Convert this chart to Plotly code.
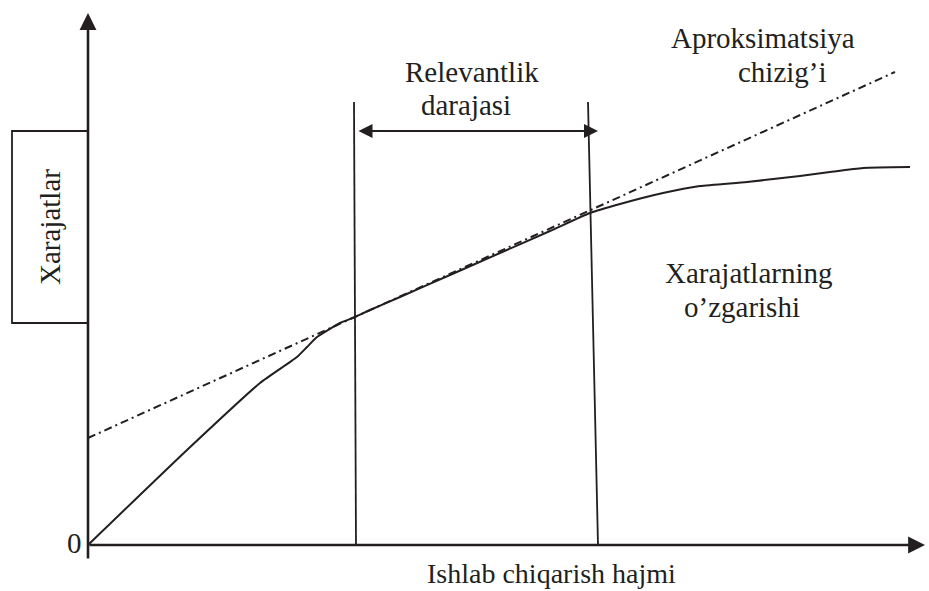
import plotly.graph_objects as go

# Data (production volume vs. costs), units: arbitrary
volume = [0, 99, 172, 209, 219, 229, 252, 267, 282, 312, 362, 412, 462, 502,
          532, 575, 612, 659, 712, 742, 775, 822]
costs = [0, 95, 162, 188, 198, 208, 222, 228, 235, 248, 270, 292, 314, 332,
         341, 352, 359, 363, 369, 373, 377, 378]

approx_x = [0, 807]
approx_y = [107, 473]

relevant_left_x = [268, 266]
relevant_right_x = [510, 500]
relevant_y = [0, 443]
relevant_arrow_y = 414

x_axis_end = 837
y_axis_top = 532
y_axis_bottom = -15

box_x = [-76, 0]
box_y = [222, 414]

INK = "#231f20"
FONT = '"Liberation Serif", "Times New Roman", Times, "DejaVu Serif", serif'

fig = go.Figure()

# Cost curve
fig.add_trace(go.Scatter(x=volume, y=costs, mode="lines",
                         line=dict(color=INK, width=2, shape="spline", smoothing=0.5),
                         hoverinfo="skip"))
# Approximation line
fig.add_trace(go.Scatter(x=approx_x, y=approx_y, mode="lines",
                         line=dict(color=INK, width=2, dash="8px,4px,2px,4px"),
                         hoverinfo="skip"))
# Relevant range bounds
fig.add_trace(go.Scatter(x=relevant_left_x, y=relevant_y, mode="lines",
                         line=dict(color=INK, width=1.8), hoverinfo="skip"))
fig.add_trace(go.Scatter(x=relevant_right_x, y=relevant_y, mode="lines",
                         line=dict(color=INK, width=1.8), hoverinfo="skip"))

# Label box
fig.add_shape(type="rect", x0=box_x[0], x1=box_x[1], y0=box_y[0], y1=box_y[1],
              line=dict(color=INK, width=1.8), fillcolor="white", layer="below")

annotations = []
# Axes with arrows
annotations.append(dict(x=0, y=y_axis_top, ax=0, ay=y_axis_bottom, xref="x", yref="y",
                        axref="x", ayref="y", text="", showarrow=True, arrowhead=2,
                        arrowsize=1.3, arrowwidth=2.6, arrowcolor=INK))
annotations.append(dict(x=x_axis_end, y=0, ax=0, ay=0, xref="x", yref="y",
                        axref="x", ayref="y", text="", showarrow=True, arrowhead=2,
                        arrowsize=1.3, arrowwidth=2.6, arrowcolor=INK))
# Double arrow for relevant range
annotations.append(dict(x=relevant_right_x[0], y=relevant_arrow_y,
                        ax=relevant_left_x[0] + 1, ay=relevant_arrow_y,
                        xref="x", yref="y", axref="x", ayref="y", text="", showarrow=True,
                        arrowhead=2, arrowside="end+start", arrowsize=1.4, arrowwidth=2,
                        arrowcolor=INK))

def txt(x, y, t, angle=0, size=29):
    annotations.append(dict(x=x, y=y, xref="x", yref="y", text=t, showarrow=False,
                            xanchor="center", yanchor="middle", textangle=angle,
                            font=dict(family=FONT, size=size, color=INK)))

txt(384, 473, "Relevantlik")
txt(378, 440, "darajasi")
txt(675, 507, "Aproksimatsiya")
txt(694, 473, "chizig’i")
txt(660, 272, "Xarajatlarning")
txt(654, 238, "o’zgarishi")
txt(463, -28, "Ishlab chiqarish hajmi", size=28)
txt(-38, 318, "Xarajatlar", angle=-90)
txt(-14, 2, "0")

fig.update_layout(
    width=929, height=591,
    margin=dict(l=0, r=0, t=0, b=0),
    paper_bgcolor="white", plot_bgcolor="white",
    showlegend=False,
    font=dict(family=FONT, color=INK),
    xaxis=dict(range=[-88, 841], visible=False, fixedrange=True),
    yaxis=dict(range=[-46, 545], visible=False, fixedrange=True),
    annotations=annotations,
)

fig.write_html("out.html", config={"displayModeBar": False},
               post_script="document.body.style.margin='0';document.body.style.overflow='hidden';")
